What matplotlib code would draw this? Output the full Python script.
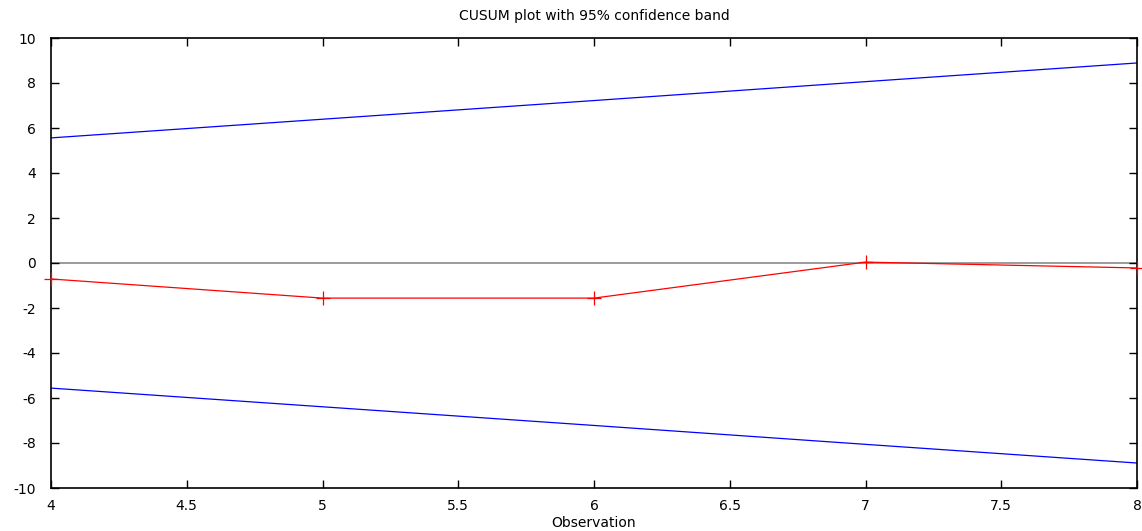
import matplotlib
matplotlib.use("Agg")
import matplotlib.pyplot as plt

obs = [4, 5, 6, 7, 8]
cusum = [-0.71, -1.56, -1.56, 0.04, -0.22]
upper = [5.56, 6.39, 7.22, 8.06, 8.89]
lower = [-5.56, -6.39, -7.22, -8.06, -8.89]

plt.rcParams['font.family'] = 'DejaVu Sans'
plt.rcParams['axes.unicode_minus'] = False
fig = plt.figure(figsize=(11.42, 5.31), dpi=100)
ax = fig.add_axes([51/1142, 43/531, (1137-51)/1142, (488-38)/531])

ax.axhline(0, color='#808080', lw=1.1, zorder=1)
ax.plot(obs, upper, color='#0000ff', lw=0.9, zorder=2)
ax.plot(obs, lower, color='#0000ff', lw=0.9, zorder=2)
ax.plot(obs, cusum, color='#ff0000', lw=0.9, marker='+', ms=10, mew=0.9,
        clip_on=False, zorder=3)

ax.set_xlim(4, 8)
ax.set_ylim(-10, 10)
ax.set_xticks([4, 4.5, 5, 5.5, 6, 6.5, 7, 7.5, 8])
ax.set_xticklabels(['4', '4.5', '5', '5.5', '6', '6.5', '7', '7.5', '8'])
ax.set_yticks(range(-10, 11, 2))
ax.tick_params(direction='in', top=True, right=True, length=6, width=1,
               labelsize=10, colors='black')
ax.tick_params(axis='y', pad=11)
ax.tick_params(axis='x', pad=8)
for s in ax.spines.values():
    s.set_linewidth(1.2)
ax.set_title('CUSUM plot with 95% confidence band', fontsize=10, pad=13)
ax.set_xlabel('Observation', fontsize=10, labelpad=2)

fig.savefig('out.png', dpi=100)
